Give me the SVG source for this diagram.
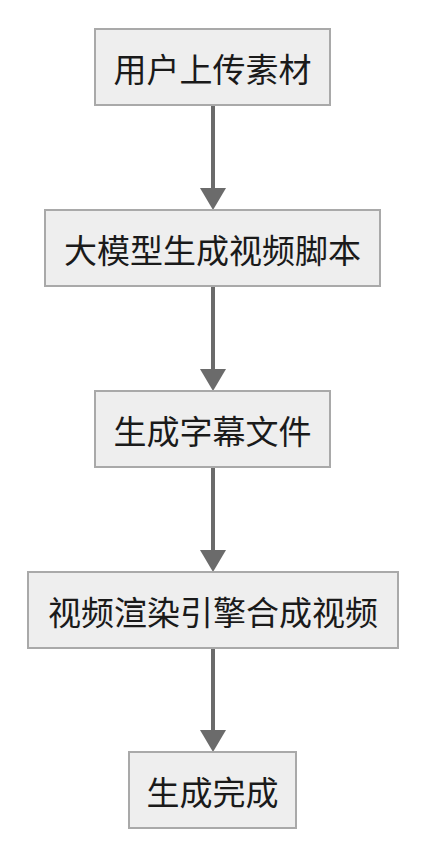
<svg xmlns="http://www.w3.org/2000/svg" width="422" height="866" viewBox="0 0 422 866">
<style>
.node rect{fill:#eeeeee;stroke:#a9a9a9;stroke-width:2}
.node text{font-family:"Noto Sans CJK SC","Noto Sans",sans-serif;font-size:33px;fill:#1a1a1a;text-anchor:middle;dominant-baseline:central}
.edge{stroke:#6b6b6b;stroke-width:4;fill:none}
.head{fill:#6b6b6b}
</style>
<rect width="422" height="866" fill="#ffffff"/>
<g id="connectors">
<line class="edge" x1="213" y1="105" x2="213" y2="190"/>
<polygon class="head" points="200,188 226,188 213,210"/>
<line class="edge" x1="213" y1="286" x2="213" y2="371"/>
<polygon class="head" points="200,369 226,369 213,391"/>
<line class="edge" x1="213" y1="467" x2="213" y2="552"/>
<polygon class="head" points="200,550 226,550 213,572"/>
<line class="edge" x1="213" y1="648" x2="213" y2="732"/>
<polygon class="head" points="200,730 226,730 213,752"/>
</g>
<g id="n1" class="node"><rect x="95" y="29" width="235" height="76"/><text x="212.5" y="68">用户上传素材</text></g>
<g id="n2" class="node"><rect x="45" y="210" width="335" height="76"/><text x="212.5" y="249">大模型生成视频脚本</text></g>
<g id="n3" class="node"><rect x="95" y="391" width="235" height="76"/><text x="212.5" y="430">生成字幕文件</text></g>
<g id="n4" class="node"><rect x="28" y="572" width="370" height="76"/><text x="213" y="611">视频渲染引擎合成视频</text></g>
<g id="n5" class="node"><rect x="129" y="752" width="167" height="76"/><text x="212.5" y="791">生成完成</text></g>
</svg>
